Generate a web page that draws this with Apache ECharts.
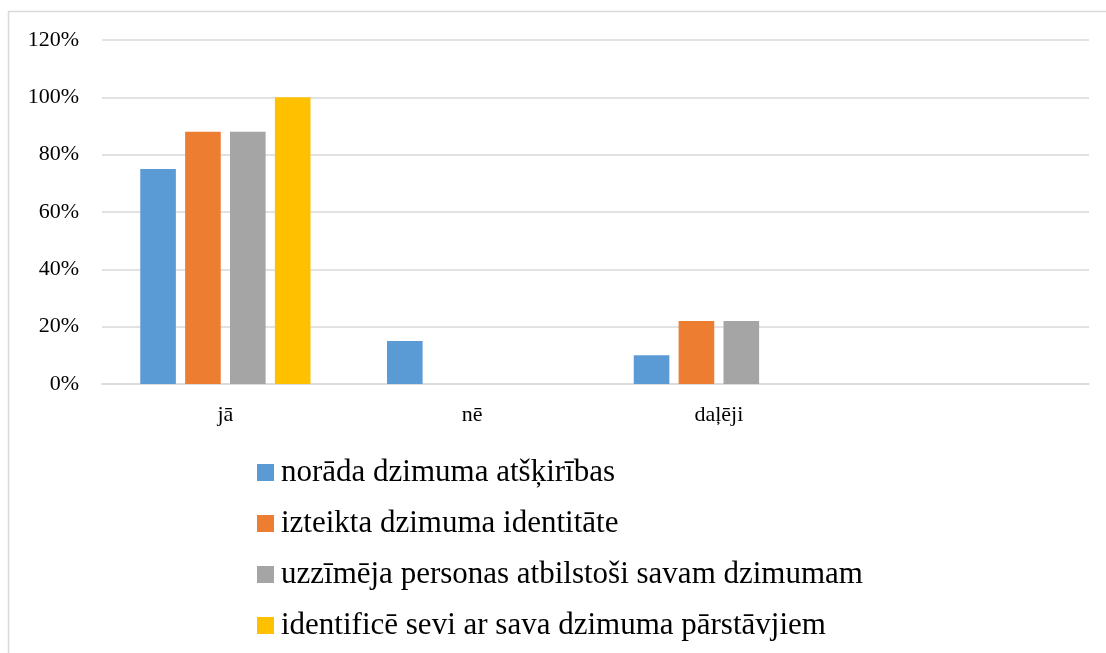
<!DOCTYPE html>
<html>
  <head>
    <meta charset="utf-8">
    <title>dzimuma identitāte</title>
    <script src="https://cdn.jsdelivr.net/npm/echarts@6/dist/echarts.min.js"></script>
    <style>
    html, body { margin: 0; padding: 0; background: #fff; }
    #chart { width: 1106px; height: 653px; }
    </style>
  </head>
  <body>
    <div id="chart"></div>
    <script type="text/javascript">
      // dati
      var categories = ['jā', 'nē', 'daļēji', ''];
      var seriesNames = [
        'norāda dzimuma atšķirības',
        'izteikta dzimuma identitāte',
        'uzzīmēja personas atbilstoši savam dzimumam',
        'identificē sevi ar sava dzimuma pārstāvjiem'
      ];
      var blueValues = [75, 15, 10, null];
      var orangeValues = [88, null, 22, null];
      var grayValues = [88, null, 22, null];
      var yellowValues = [100, null, null, null];
      var yTicks = [0, 20, 40, 60, 80, 100, 120];

      var colors = ['#5b9bd5', '#ed7d31', '#a5a5a5', '#ffc000'];
      var font = '"Liberation Serif", "Times New Roman", serif';

      function bar(name, data) {
        return {
          name: name,
          type: 'bar',
          data: data,
          barGap: '26%',
          barCategoryGap: '31%'
        };
      }

      var chart = echarts.init(document.getElementById('chart'));
      var option = {
        color: colors,
        animation: false,
        graphic: [{
          type: 'polyline',
          shape: { points: [[8.5, 660], [8.5, 11.5], [1110, 11.5]] },
          style: { stroke: '#d9d9d9', fill: null, lineWidth: 1.5 },
          silent: true
        }],
        grid: { left: 102, right: 17, top: 40, bottom: 269, containLabel: false },
        legend: {
          orient: 'vertical',
          left: 252,
          top: 452,
          itemWidth: 17,
          itemHeight: 17,
          itemGap: 20,
          icon: 'rect',
          data: seriesNames,
          textStyle: { fontFamily: font, fontSize: 31, lineHeight: 31, color: '#000', padding: [0, 0, 0, 2] }
        },
        xAxis: {
          type: 'category',
          data: categories,
          axisLine: { lineStyle: { color: '#d9d9d9', width: 1.5 } },
          axisTick: { show: false },
          axisLabel: { fontFamily: font, fontSize: 22, color: '#000', margin: 20 }
        },
        yAxis: {
          type: 'value',
          min: yTicks[0],
          max: yTicks[yTicks.length - 1],
          interval: 20,
          axisLine: { show: false },
          axisTick: { show: false },
          splitLine: { lineStyle: { color: '#d9d9d9', width: 1.5 } },
          axisLabel: { fontFamily: font, fontSize: 22, color: '#000', margin: 23, formatter: '{value}%' }
        },
        series: [
          bar(seriesNames[0], blueValues),
          bar(seriesNames[1], orangeValues),
          bar(seriesNames[2], grayValues),
          bar(seriesNames[3], yellowValues)
        ]
      };
      chart.setOption(option);
    </script>
  </body>
</html>
